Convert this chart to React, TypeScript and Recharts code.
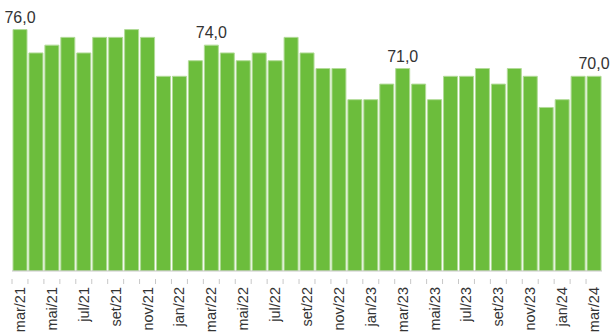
import { BarChart, Bar, XAxis, YAxis, LabelList } from "recharts";

const MONTHS = [
  "mar/21", "abr/21", "mai/21", "jun/21", "jul/21", "ago/21", "set/21", "out/21", "nov/21", "dez/21",
  "jan/22", "fev/22", "mar/22", "abr/22", "mai/22", "jun/22", "jul/22", "ago/22", "set/22", "out/22",
  "nov/22", "dez/22", "jan/23", "fev/23", "mar/23", "abr/23", "mai/23", "jun/23", "jul/23", "ago/23",
  "set/23", "out/23", "nov/23", "dez/23", "jan/24", "fev/24", "mar/24",
];

const VALUES = [
  76, 73, 74, 75, 73, 75, 75, 76, 75, 70,
  70, 72, 74, 73, 72, 73, 72, 75, 73, 71,
  71, 67, 67, 69, 71, 69, 67, 70, 70, 71,
  69, 71, 70, 66, 67, 70, 70,
];

const LABELED = ["mar/21", "mar/22", "mar/23", "mar/24"];

const Y_DOMAIN = [45, 78];

const data = MONTHS.map((m, i) => ({ month: m, value: VALUES[i] }));

const FONT = "'Liberation Sans', Arial, sans-serif";

function MonthTick(props: any) {
  const { x, y, payload, index } = props;
  // bandwidth of one category; tick mark sits on the left boundary
  const half = 589.5 / MONTHS.length / 2;
  return (
    <g>
      <line x1={x - half} y1={y} x2={x - half} y2={y + 5} stroke="#c8c8c8" strokeWidth={1} />
      {index % 2 === 0 && (
        <text
          x={x}
          y={y + 8}
          transform={`rotate(-90, ${x}, ${y + 8})`}
          textAnchor="end"
          dominantBaseline="central"
          fontSize={14.5}
          fontFamily={FONT}
          fill="#333"
        >
          {payload.value}
        </text>
      )}
    </g>
  );
}

function ValueLabel(props: any) {
  const { x, y, width, value, index } = props;
  if (!LABELED.includes(MONTHS[index])) return null;
  return (
    <text
      x={x + width / 2}
      y={y - 7}
      textAnchor="middle"
      fontSize={16}
      fontFamily={FONT}
      fill="#333"
    >
      {Number(value).toFixed(1).replace(".", ",")}
    </text>
  );
}

export default function App() {
  return (
    <div style={{ position: "absolute", left: 0, top: 0, width: 612, height: 333, background: "#fff" }}>
      <BarChart
        width={612}
        height={333}
        data={data}
        margin={{ top: 14, right: 10, bottom: 0, left: 12 }}
        barCategoryGap={1}
      >
        <XAxis
          dataKey="month"
          interval={0}
          height={62}
          tickLine={false}
          axisLine={{ stroke: "#c8c8c8" }}
          tick={<MonthTick />}
        />
        <YAxis hide domain={Y_DOMAIN} allowDataOverflow />
        <Bar dataKey="value" fill="#6cbd3c" stroke="#b2db98" strokeWidth={1} isAnimationActive={false}>
          <LabelList dataKey="value" content={<ValueLabel />} />
        </Bar>
      </BarChart>
    </div>
  );
}
